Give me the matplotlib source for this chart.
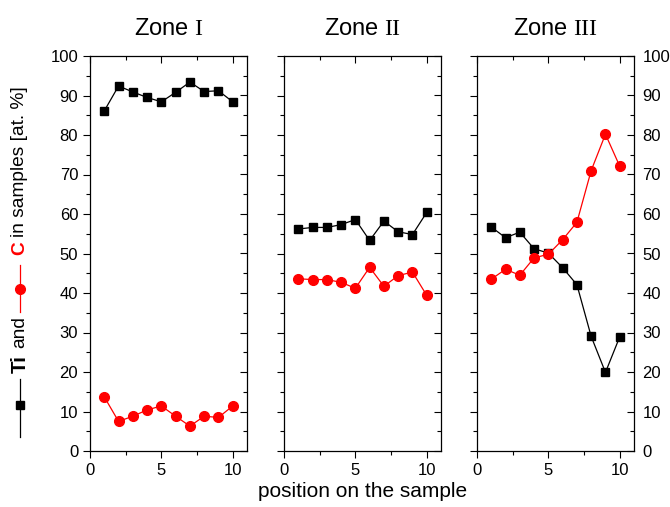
import matplotlib
matplotlib.use("Agg")
import matplotlib.pyplot as plt
from matplotlib.lines import Line2D

plt.rcParams['font.family'] = ['Liberation Sans', 'DejaVu Sans']
plt.rcParams['mathtext.fontset'] = 'custom'
plt.rcParams['mathtext.rm'] = 'Liberation Serif'

position = [1, 2, 3, 4, 5, 6, 7, 8, 9, 10]
zones = ["Zone $\\mathrm{I}$", "Zone $\\mathrm{II}$", "Zone $\\mathrm{III}$"]

ti_zone1 = [86.1, 92.4, 90.9, 89.5, 88.4, 90.8, 93.4, 91.0, 91.2, 88.4]
c_zone1 = [13.7, 7.5, 8.8, 10.4, 11.4, 8.8, 6.3, 8.8, 8.5, 11.4]

ti_zone2 = [56.2, 56.6, 56.6, 57.3, 58.6, 53.3, 58.2, 55.5, 54.8, 60.4]
c_zone2 = [43.6, 43.4, 43.4, 42.7, 41.2, 46.5, 41.7, 44.4, 45.3, 39.4]

ti_zone3 = [56.7, 54.0, 55.4, 51.2, 50.1, 46.4, 42.1, 29.0, 19.9, 28.9]
c_zone3 = [43.5, 46.0, 44.5, 48.9, 49.8, 53.5, 57.9, 71.0, 80.2, 72.1]

ti_data = [ti_zone1, ti_zone2, ti_zone3]
c_data = [c_zone1, c_zone2, c_zone3]

W, H = 670, 507
fig = plt.figure(figsize=(W / 100, H / 100), dpi=100)

lefts = [90, 284, 477]
axes = []
for i in range(3):
    ax = fig.add_axes([lefts[i] / W, (H - 451) / H, 157 / W, 395 / H])
    axes.append(ax)

    ax.plot(position, ti_data[i], color='black', lw=0.9, marker='s', ms=6.2,
            mec='black', mfc='black')
    ax.plot(position, c_data[i], color='red', lw=0.9, marker='o', ms=7,
            mec='red', mfc='red')

    ax.set_xlim(0, 11)
    ax.set_ylim(0, 100)
    ax.set_xticks([0, 5, 10])
    ax.set_xticks([2.5, 7.5], minor=True)
    ax.set_yticks(range(0, 101, 10))
    ax.set_yticks(range(5, 100, 10), minor=True)

    for s in ax.spines.values():
        s.set_linewidth(0.9)
    ax.spines['right'].set_visible(False)
    ax.spines['top'].set_visible(False)

    ax.tick_params(which='both', direction='out', width=0.8, labelsize=12,
                   top=False, right=False)
    ax.tick_params(which='major', length=5)
    ax.tick_params(which='minor', length=3)
    if i > 0:
        ax.tick_params(axis='y', labelleft=False)

    # inward ticks on top and right
    sx = ax.secondary_xaxis('top')
    sx.set_xticks([0, 5, 10])
    sx.set_xticks([2.5, 7.5], minor=True)
    sx.tick_params(which='both', direction='in', width=0.8, labeltop=False)
    sx.tick_params(which='major', length=5)
    sx.tick_params(which='minor', length=3)
    sx.spines['top'].set_linewidth(0.9)

    sy = ax.secondary_yaxis('right')
    sy.set_yticks(range(0, 101, 10))
    sy.set_yticks(range(5, 100, 10), minor=True)
    sy.tick_params(which='both', direction='in', width=0.8, labelsize=12,
                   labelright=(i == 2), pad=6)
    sy.tick_params(which='major', length=5)
    sy.tick_params(which='minor', length=3)
    sy.spines['right'].set_linewidth(0.9)

    ax.set_title(zones[i], fontsize=17, pad=15)

axes[1].set_xlabel("position on the sample", fontsize=15, labelpad=3)

# y label built from pieces with line+marker keys
xl = 20 / W
fs = 13.8
fig.add_artist(Line2D([xl, xl], [70 / H, 128 / H], color='black', lw=0.9,
                      transform=fig.transFigure))
fig.add_artist(Line2D([xl], [102 / H], marker='s', ms=6.2, color='black',
                      transform=fig.transFigure))
fig.text(xl, 134 / H, "Ti", rotation=90, ha='center', va='bottom',
         fontsize=fs + 1, fontweight='bold')
fig.text(xl, 159 / H, "and", rotation=90, ha='center', va='bottom', fontsize=fs)
fig.add_artist(Line2D([xl, xl], [195 / H, 242 / H], color='red', lw=0.9,
                      transform=fig.transFigure))
fig.add_artist(Line2D([xl], [218 / H], marker='o', ms=7, color='red',
                      transform=fig.transFigure))
fig.text(xl, 252 / H, "C", rotation=90, ha='center', va='bottom',
         fontsize=fs, fontweight='bold', color='red')
fig.text(xl, 270 / H, "in samples [at. %]", rotation=90, ha='center',
         va='bottom', fontsize=fs)

fig.savefig("out.png", dpi=100)
